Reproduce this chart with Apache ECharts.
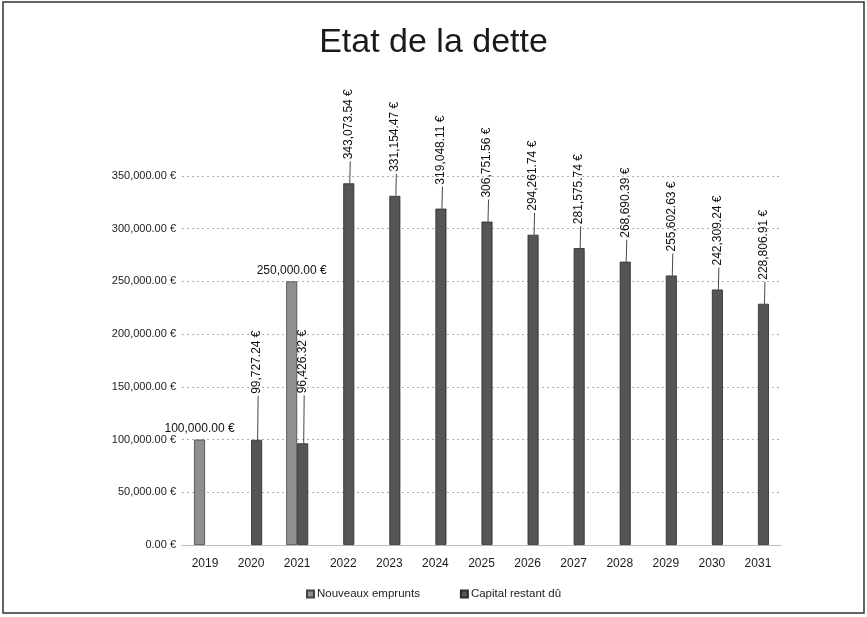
<!DOCTYPE html>
<html>
<head>
<meta charset="utf-8">
<script src="https://cdn.jsdelivr.net/npm/echarts@6/dist/echarts.min.js"></script>
<style>
html,body{margin:0;padding:0;background:#fff;}
#c{width:867px;height:617px;}
</style>
</head>
<body>
<div id="c"></div>
<script>
const years = ['2019','2020','2021','2022','2023','2024','2025','2026','2027','2028','2029','2030','2031'];
const nouveauxEmprunts = [100000, null, 250000, null, null, null, null, null, null, null, null, null, null];
const capitalRestantDu = [null, 99727.24, 96426.32, 343073.54, 331154.47, 319048.11, 306751.56, 294261.74, 281575.74, 268690.39, 255602.63, 242309.24, 228806.91];
const yTicks = [0, 50000, 100000, 150000, 200000, 250000, 300000, 350000];

const fmt = v => Number(v).toLocaleString('en-US', {minimumFractionDigits: 2, maximumFractionDigits: 2}) + ' €';
const FONT = '"Liberation Sans", Arial, sans-serif';
const BAR_W = 11;
// leader-line length (px) per category, longer where the label avoids neighbours
const leaderGap = i => (i === 1 ? 46 : i === 2 ? 50 : 24);

const chart = echarts.init(document.getElementById('c'), null, {renderer: 'canvas'});
chart.setOption({
  backgroundColor: '#fff',
  animation: false,
  title: {
    text: 'Etat de la dette',
    left: 'center',
    top: 21,
    textStyle: {fontFamily: FONT, fontSize: 34, fontWeight: 'normal', color: '#1a1a1a'}
  },
  legend: {
    data: ['Nouveaux emprunts', 'Capital restant dû'],
    bottom: 12,
    left: 'center',
    icon: 'rect',
    itemWidth: 7,
    itemHeight: 7,
    itemGap: 40,
    textStyle: {fontFamily: FONT, fontSize: 11.5, color: '#222', padding: [0,0,0,-2]}
  },
  grid: {left: 182, right: 86, top: 176, bottom: 72, containLabel: false},
  xAxis: {
    type: 'category',
    data: years,
    axisLine: {show: true, lineStyle: {color: '#bdbdbd', width: 1}},
    axisTick: {show: false},
    axisLabel: {fontFamily: FONT, fontSize: 12, color: '#1a1a1a', margin: 13}
  },
  yAxis: {
    type: 'value',
    min: 0,
    max: yTicks[yTicks.length - 1],
    interval: 50000,
    axisLine: {show: false},
    axisTick: {show: false},
    splitLine: {show: true, lineStyle: {color: '#b0b0b0', type: [2, 3], width: 1}},
    axisLabel: {fontFamily: FONT, fontSize: 11, color: '#1a1a1a', margin: 6, formatter: v => fmt(v)}
  },
  series: [
    {
      name: 'Nouveaux emprunts',
      type: 'bar',
      barWidth: BAR_W,
      barGap: '0%',
      data: nouveauxEmprunts.map(v => v === null ? '-' : v),
      itemStyle: {color: '#8f8f8f', borderColor: '#444', borderWidth: 0.8},
      label: {
        show: true,
        position: 'top',
        distance: 5,
        fontFamily: FONT,
        fontSize: 12,
        color: '#111',
        formatter: p => fmt(p.value)
      }
    },
    {
      name: 'Capital restant dû',
      type: 'bar',
      barWidth: BAR_W,
      barGap: '0%',
      data: capitalRestantDu.map((v, i) => v === null ? '-' : {value: v, label: {distance: leaderGap(i)}}),
      itemStyle: {color: '#555555', borderColor: '#2a2a2a', borderWidth: 0.8},
      label: {
        show: true,
        position: 'top',
        rotate: 90,
        align: 'left',
        verticalAlign: 'middle',
        fontFamily: FONT,
        fontSize: 12,
        color: '#111',
        formatter: p => fmt(p.value)
      }
    },
    {
      name: 'leader',
      type: 'custom',
      silent: true,
      z: 3,
      data: capitalRestantDu.map((v, i) => v === null ? [i, '-'] : [i, v]),
      encode: {x: 0, y: 1},
      renderItem: function (params, api) {
        const v = api.value(1);
        if (v === '-' || v === null || isNaN(v)) return null;
        const i = api.value(0);
        const p = api.coord([i, v]);
        const cx = p[0] + BAR_W / 2;
        const g = leaderGap(i);
        return {
          type: 'line',
          shape: {x1: cx + 1, y1: p[1], x2: cx + 1.5, y2: p[1] - g + 2},
          style: {stroke: '#333', lineWidth: 0.9}
        };
      }
    }
  ],
  graphic: [{
    type: 'rect',
    shape: {x: 3, y: 2, width: 861, height: 611},
    style: {fill: 'none', stroke: '#333', lineWidth: 1.5},
    silent: true
  }]
});
</script>
</body>
</html>
